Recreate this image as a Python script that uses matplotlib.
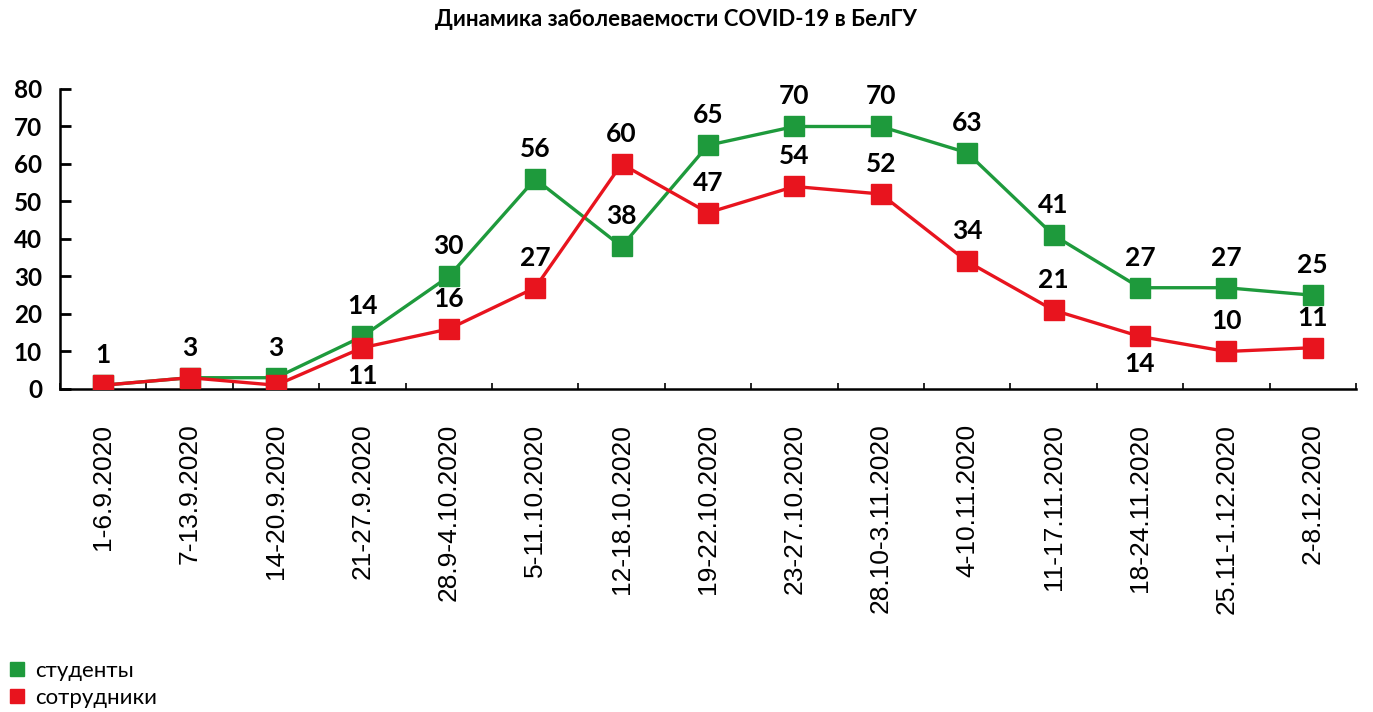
import matplotlib
matplotlib.use("Agg")
import matplotlib.pyplot as plt
from matplotlib.lines import Line2D

plt.rcParams['font.family'] = ['Lato', 'DejaVu Sans']

weeks = ["1-6.9.2020", "7-13.9.2020", "14-20.9.2020", "21-27.9.2020", "28.9-4.10.2020",
         "5-11.10.2020", "12-18.10.2020", "19-22.10.2020", "23-27.10.2020", "28.10-3.11.2020",
         "4-10.11.2020", "11-17.11.2020", "18-24.11.2020", "25.11-1.12.2020", "2-8.12.2020"]
students = [1, 3, 3, 14, 30, 56, 38, 65, 70, 70, 63, 41, 27, 27, 25]
staff = [1, 3, 1, 11, 16, 27, 60, 47, 54, 52, 34, 21, 14, 10, 11]
# which staff values get a label, and whether it sits below the marker
staff_labeled = [False, False, False, True, True, True, True, True, True, True, True, True, True, True, True]
staff_below = [False, False, False, True, False, False, False, False, False, False, False, False, True, False, False]

green = '#1e9a3c'
red = '#e8141e'

fig = plt.figure(figsize=(13.73, 7.12), dpi=100)
ax = fig.add_axes([0.0437, 0.4537, 0.9439, 0.4213])

x = list(range(len(weeks)))
ax.plot(x, students, color=green, lw=2.4, marker='s', ms=14, zorder=3)
ax.plot(x, staff, color=red, lw=2.4, marker='s', ms=14, zorder=4)

for i, v in enumerate(students):
    ax.annotate(str(v), (i, v), xytext=(0, 30), textcoords='offset pixels',
                ha='center', va='center', fontsize=19, fontweight='bold')
for i, v in enumerate(staff):
    if not staff_labeled[i]:
        continue
    dy = -28 if staff_below[i] else 30
    ax.annotate(str(v), (i, v), xytext=(0, dy), textcoords='offset pixels',
                ha='center', va='center', fontsize=19, fontweight='bold')

ax.set_xlim(-0.5, len(weeks) - 0.5)
ax.set_ylim(0, 80)
ax.set_yticks(range(0, 81, 10))
ax.set_xticks(x)
ax.set_xticklabels(weeks, rotation=90, fontsize=19, family='Liberation Sans')
ax.set_xticks([i - 0.5 for i in range(len(weeks) + 1)], minor=True)
ax.tick_params(axis='x', which='major', length=0, pad=25)
ax.tick_params(axis='x', which='minor', direction='in', length=4, width=1.2)
ax.tick_params(axis='y', direction='in', length=8, width=2, pad=13, labelsize=17.5)
for lab in ax.get_yticklabels():
    lab.set_fontweight('bold')

for s in ['top', 'right']:
    ax.spines[s].set_visible(False)
for s in ['left', 'bottom']:
    ax.spines[s].set_linewidth(1.8)

fig.suptitle("Динамика заболеваемости COVID-19 в БелГУ", x=0.492, y=0.972, va='center',
             fontsize=16, fontweight='bold')

handles = [Line2D([], [], color=green, marker='s', linestyle='none', ms=10),
           Line2D([], [], color=red, marker='s', linestyle='none', ms=10)]
fig.legend(handles, ["студенты", "сотрудники"], loc='lower left', bbox_to_anchor=(-0.009, -0.022),
           frameon=False, fontsize=16, handlelength=0.8, handletextpad=0.45, labelspacing=0.3)

fig.savefig("out.png", dpi=100)
